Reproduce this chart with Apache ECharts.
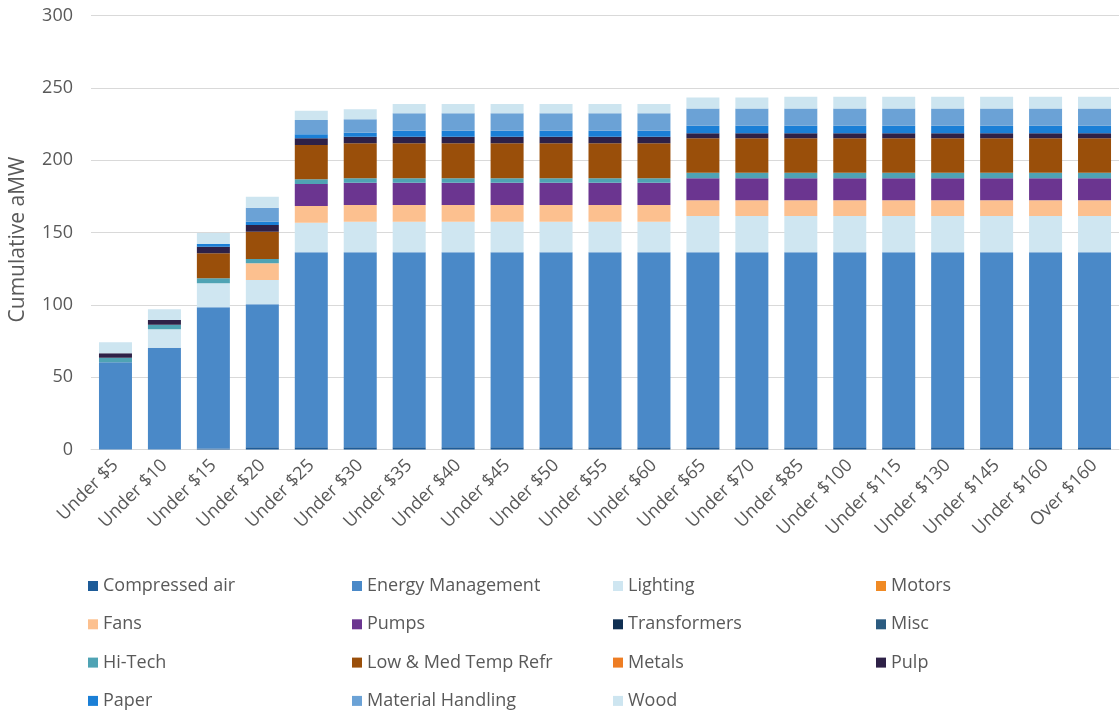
<!DOCTYPE html>
<html>
<head>
<meta charset="utf-8">
<script src="https://cdn.jsdelivr.net/npm/echarts@6/dist/echarts.min.js"></script>
<style>
  html, body { margin: 0; padding: 0; background: #fff; }
  #chart { width: 1120px; height: 712px; }
</style>
</head>
<body>
<div id="chart"></div>
<script>
// price bins (x axis)
const categories = ['Under $5', 'Under $10', 'Under $15', 'Under $20', 'Under $25', 'Under $30', 'Under $35',
  'Under $40', 'Under $45', 'Under $50', 'Under $55', 'Under $60', 'Under $65', 'Under $70', 'Under $85',
  'Under $100', 'Under $115', 'Under $130', 'Under $145', 'Under $160', 'Over $160']

// cumulative aMW per measure
const compressedAir = [0, 0, 0.7, 1.5, 1.5, 1.5, 1.5, 1.5, 1.5, 1.5, 1.5, 1.5, 1.5, 1.5, 1.5, 1.5, 1.5, 1.5, 1.5, 1.5, 1.5]
const energyManagement = [60.3, 70.4, 97.6, 98.9, 134.8, 134.8, 134.8, 134.8, 134.8, 134.8, 134.8, 134.8, 134.8, 134.8, 134.8, 134.8, 134.8, 134.8, 134.8, 134.8, 134.8]
const lighting = [0, 12.7, 16.6, 16.8, 20.5, 21.2, 21.2, 21.2, 21.2, 21.2, 21.2, 21.2, 25.1, 25.1, 25.1, 25.1, 25.1, 25.1, 25.1, 25.1, 25.1]
const motors = [0, 0, 0, 0, 0, 0, 0, 0, 0, 0, 0, 0, 0, 0, 0, 0, 0, 0, 0, 0, 0]
const fans = [0, 0, 0, 11.5, 11.5, 11.5, 11.5, 11.5, 11.5, 11.5, 11.5, 11.5, 10.9, 10.9, 10.9, 10.9, 10.9, 10.9, 10.9, 10.9, 10.9]
const pumps = [0, 0, 0, 0, 15.2, 15.4, 15.4, 15.4, 15.4, 15.4, 15.4, 15.4, 15.2, 15.2, 15.2, 15.2, 15.2, 15.2, 15.2, 15.2, 15.2]
const transformers = [0, 0, 0, 0, 0, 0, 0, 0, 0, 0, 0, 0, 0, 0, 0, 0, 0, 0, 0, 0, 0]
const misc = [0, 0, 0, 0, 0, 0, 0, 0, 0, 0, 0, 0, 0, 0, 0, 0, 0, 0, 0, 0, 0]
const hiTech = [3.2, 3.2, 3.4, 3.0, 3.3, 3.1, 3.1, 3.1, 3.1, 3.1, 3.1, 3.1, 3.8, 3.8, 3.8, 3.8, 3.8, 3.8, 3.8, 3.8, 3.8]
const lowMedTempRefr = [0, 0, 17.3, 18.8, 23.7, 24.2, 24.2, 24.2, 24.2, 24.2, 24.2, 24.2, 23.8, 23.8, 23.8, 23.8, 23.8, 23.8, 23.8, 23.8, 23.8]
const metals = [0, 0, 0, 0, 0, 0, 0, 0, 0, 0, 0, 0, 0, 0, 0, 0, 0, 0, 0, 0, 0]
const pulp = [3.0, 3.2, 4.6, 4.7, 4.6, 4.5, 4.5, 4.5, 4.5, 4.5, 4.5, 4.5, 3.5, 3.5, 3.5, 3.5, 3.5, 3.5, 3.5, 3.5, 3.5]
const paper = [0, 0, 1.8, 2.3, 2.8, 2.8, 4.2, 4.2, 4.2, 4.2, 4.2, 4.2, 5.2, 5.2, 5.2, 5.2, 5.2, 5.2, 5.2, 5.2, 5.2]
const materialHandling = [0, 0, 0, 9.6, 9.9, 9.2, 12, 12, 12, 12, 12, 12, 12, 12, 12, 12, 12, 12, 12, 12, 12]
const wood = [7.6, 7.4, 7.7, 7.6, 6.4, 7.0, 6.4, 6.4, 6.4, 6.4, 6.4, 6.4, 7.5, 7.5, 8, 8, 8, 8, 8, 8, 8]

const yTicks = [0, 50, 100, 150, 200, 250, 300]

const seriesDefs = [
  ['Compressed air', compressedAir, '#1d5b98'],
  ['Energy Management', energyManagement, '#4a89c8'],
  ['Lighting', lighting, '#cfe6f1'],
  ['Motors', motors, '#f08a24'],
  ['Fans', fans, '#fcc08f'],
  ['Pumps', pumps, '#6b3590'],
  ['Transformers', transformers, '#0f2f52'],
  ['Misc', misc, '#2b5b80'],
  ['Hi-Tech', hiTech, '#4fa3b4'],
  ['Low & Med Temp Refr', lowMedTempRefr, '#9a4f0a'],
  ['Metals', metals, '#ee7d23'],
  ['Pulp', pulp, '#2e2147'],
  ['Paper', paper, '#1b7fd6'],
  ['Material Handling', materialHandling, '#6ba2d6'],
  ['Wood', wood, '#cde5f0']
]

const font = 'Open Sans'
const grey = '#595959'

function legendCol (left, names) {
  return {
    orient: 'vertical',
    left: left,
    top: 571,
    height: 200,
    itemWidth: 10,
    itemHeight: 10,
    itemGap: 18.3,
    icon: 'rect',
    data: names,
    textStyle: { color: grey, fontSize: 18, fontFamily: font, lineHeight: 20 }
  }
}

const option = {
  animation: false,
  textStyle: { fontFamily: font },
  grid: { left: 91, right: 1, top: 15.5, bottom: 712 - 449.5 },
  legend: [
    legendCol(83, ['Compressed air', 'Fans', 'Hi-Tech', 'Paper']),
    legendCol(347, ['Energy Management', 'Pumps', 'Low & Med Temp Refr', 'Material Handling']),
    legendCol(608, ['Lighting', 'Transformers', 'Metals', 'Wood']),
    legendCol(871, ['Motors', 'Misc', 'Pulp'])
  ],
  xAxis: {
    type: 'category',
    data: categories,
    axisLine: { lineStyle: { color: '#d9d9d9' } },
    axisTick: { show: false },
    axisLabel: { rotate: 45, interval: 0, color: grey, fontSize: 18, fontFamily: font, margin: 13 }
  },
  yAxis: {
    type: 'value',
    min: yTicks[0],
    max: yTicks[yTicks.length - 1],
    interval: 50,
    name: 'Cumulative aMW',
    nameLocation: 'middle',
    nameGap: 62,
    nameTextStyle: { color: grey, fontSize: 21, fontFamily: font, padding: [0, 14, 0, 0] },
    axisLabel: { color: grey, fontSize: 18, fontFamily: font, margin: 18 },
    splitLine: { lineStyle: { color: '#d9d9d9' } }
  },
  series: seriesDefs.map(([name, data, color]) => ({
    name: name,
    type: 'bar',
    stack: 'total',
    barWidth: 33,
    data: data,
    itemStyle: { color: color }
  }))
}

const chart = echarts.init(document.getElementById('chart'))
chart.setOption(option)
</script>
</body>
</html>
